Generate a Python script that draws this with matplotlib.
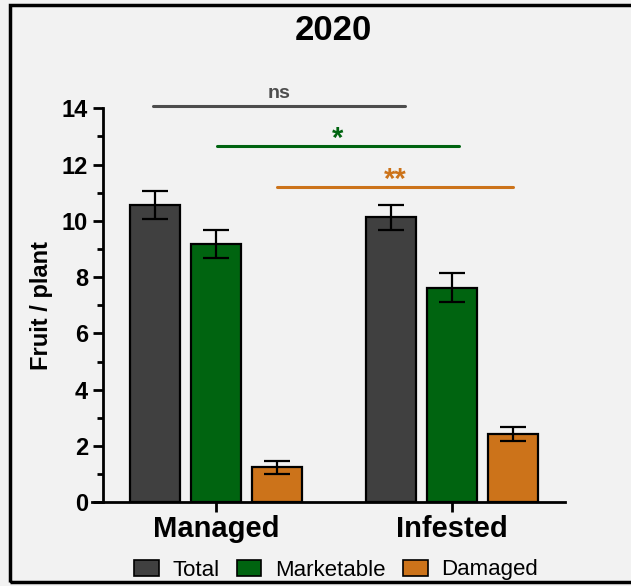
import matplotlib
matplotlib.use('Agg')
import matplotlib.pyplot as plt
from matplotlib.patches import Rectangle, Patch
from matplotlib.ticker import MultipleLocator
import numpy as np

plt.rcParams['font.family'] = ['Liberation Sans', 'DejaVu Sans']

groups = ['Managed', 'Infested']
series = ['Total', 'Marketable', 'Damaged']
means = {
    'Total': [10.55, 10.12],
    'Marketable': [9.18, 7.62],
    'Damaged': [1.24, 2.43],
}
errors = {
    'Total': [0.50, 0.45],
    'Marketable': [0.50, 0.52],
    'Damaged': [0.22, 0.26],
}
colors = {'Total': '#404040', 'Marketable': '#006410', 'Damaged': '#cc731a'}

# significance brackets: (label, y, x start, x end, colour)
sig_labels = ['ns', '*', '**']
sig_y = [14.08, 12.67, 11.22]
sig_x0 = [-0.267, 0.004, 0.258]
sig_x1 = [0.801, 1.030, 1.258]
sig_colors = ['#4d4d4d', '#006410', '#cc731a']

fig = plt.figure(figsize=(6.31, 5.86), dpi=100)
fig.patch.set_facecolor('#f2f2f2')
ax = fig.add_axes([92 / 631, 1 - 502.3 / 586, 473 / 631, 394 / 586])
ax.set_facecolor('#f2f2f2')

x = np.arange(len(groups))
step, width = 0.26, 0.212
for i, s in enumerate(series):
    ax.bar(x + (i - 1) * step, means[s], width, yerr=errors[s], color=colors[s],
           edgecolor='black', linewidth=1.6, capsize=9.5,
           error_kw=dict(elinewidth=1.6, capthick=1.6, ecolor='black'), zorder=3)

for lab, yy, x0, x1, c in zip(sig_labels, sig_y, sig_x0, sig_x1, sig_colors):
    ax.plot([x0, x1], [yy, yy], color=c, lw=2.2, clip_on=False, solid_capstyle='round')
    if lab == 'ns':
        ax.text((x0 + x1) / 2, yy + 0.28, lab, color=c, ha='center', va='baseline',
                fontsize=14, fontweight='bold', clip_on=False)
    else:
        ax.text((x0 + x1) / 2, yy - 0.04, lab, color=c, ha='center', va='baseline',
                fontsize=21, fontweight='bold', clip_on=False)

ax.set_xlim(-0.525, 1.479)
ax.set_ylim(0, 14)
ax.spines['top'].set_visible(False)
ax.spines['right'].set_visible(False)
ax.spines['left'].set_position(('data', -0.48))
ax.spines['left'].set_linewidth(2)
ax.spines['bottom'].set_linewidth(2)
ax.yaxis.set_major_locator(MultipleLocator(2))
ax.yaxis.set_minor_locator(MultipleLocator(1))
ax.tick_params(axis='y', which='major', length=7, width=2, labelsize=17, direction='out')
ax.tick_params(axis='y', which='minor', length=4, width=2)
ax.tick_params(axis='x', length=7, width=2, labelsize=21, pad=2)
ax.set_xticks(x)
ax.set_xticklabels(groups, fontweight='bold')
for t in ax.get_yticklabels():
    t.set_fontweight('bold')
ax.set_ylabel('Fruit / plant', fontsize=17, fontweight='bold', labelpad=6)

fig.text(333 / 631, 1 - 30 / 586, '2020', ha='center', va='center',
         fontsize=25, fontweight='bold')

handles = [Patch(facecolor=colors[s], edgecolor='black', linewidth=1.2, label=s) for s in series]
fig.legend(handles=handles, loc='center', bbox_to_anchor=(336 / 631, 1 - 570 / 586),
           ncol=3, frameon=False, fontsize=16, handlelength=1.1, handleheight=0.75,
           handletextpad=0.6, columnspacing=0.8, borderpad=0)

fig.add_artist(Rectangle((10 / 631, 4 / 586), 1.2, 1 - 9 / 586, transform=fig.transFigure,
                         fill=False, edgecolor='black', linewidth=2.5, clip_on=False))

fig.savefig('out.png', dpi=100, facecolor=fig.get_facecolor())
